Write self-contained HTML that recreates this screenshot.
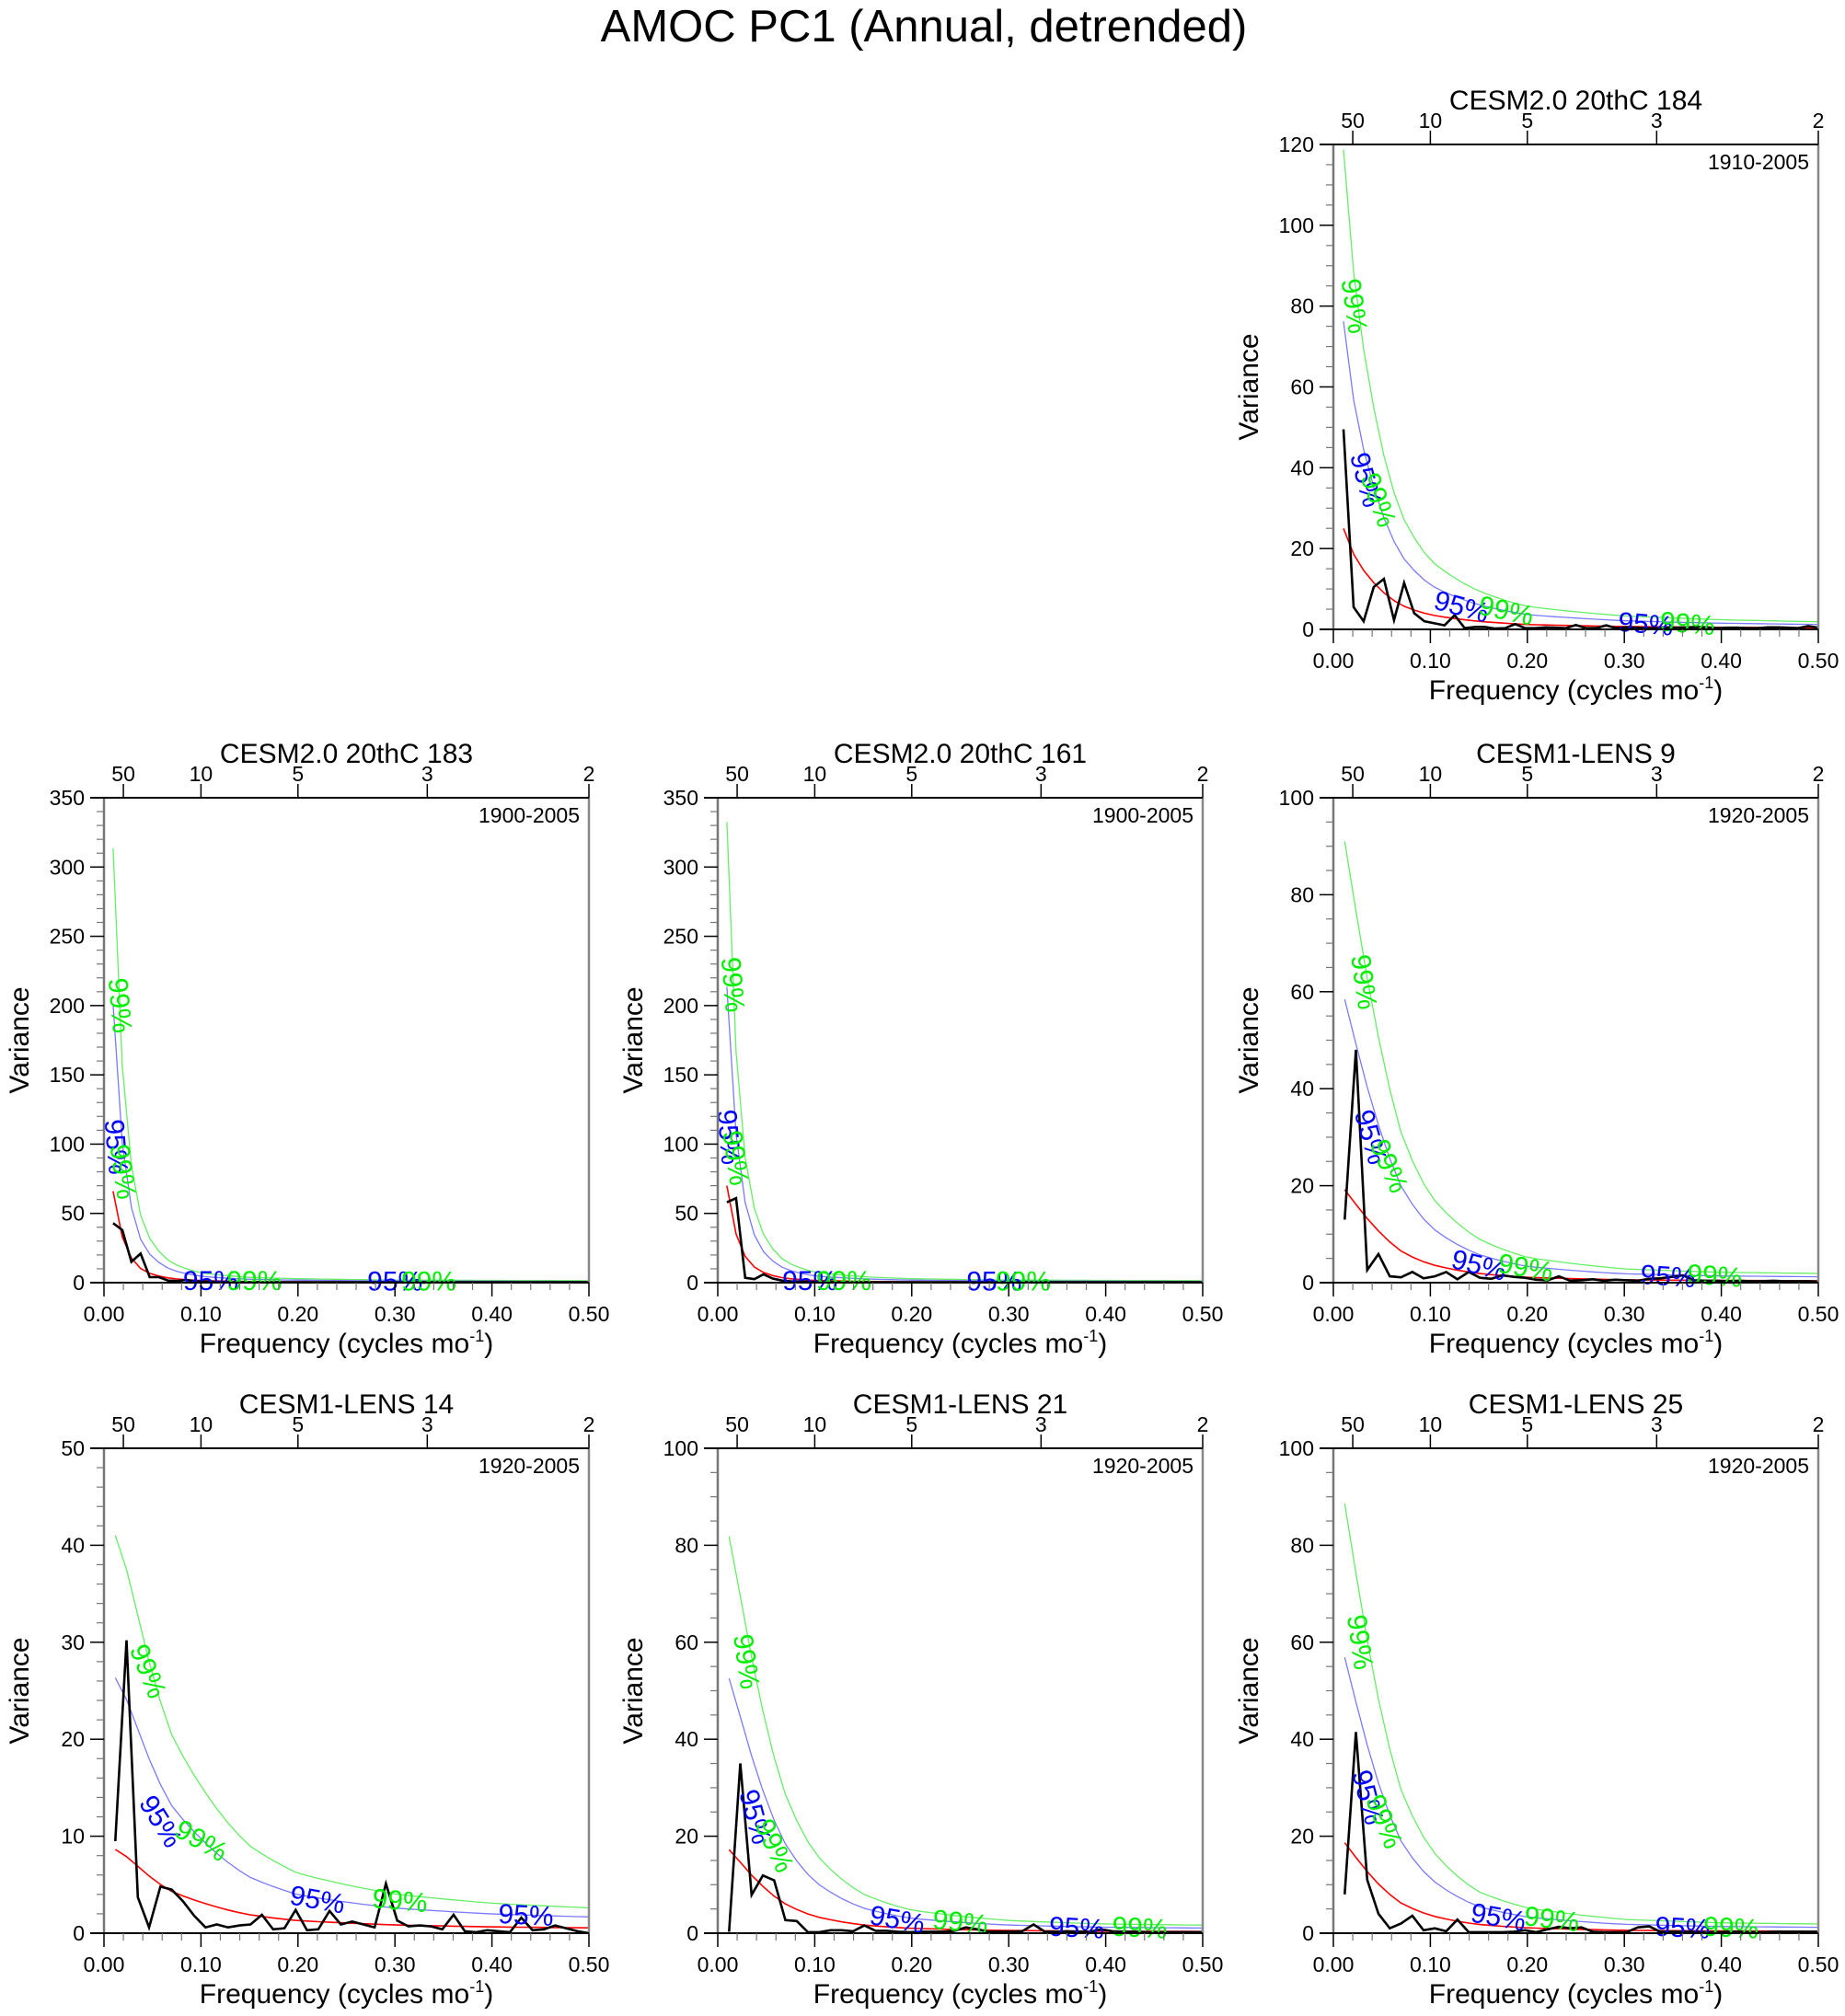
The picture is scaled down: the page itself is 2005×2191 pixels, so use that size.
<!DOCTYPE html>
<html><head><meta charset="utf-8"><title>AMOC PC1 (Annual, detrended)</title>
<style>
html,body{margin:0;padding:0;background:#fff;}
body{width:2005px;height:2191px;overflow:hidden;font-family:"Liberation Sans",sans-serif;}
svg{display:block;}
</style></head>
<body>
<svg id="chart" width="2005" height="2191" viewBox="0 0 2005 2191" xmlns="http://www.w3.org/2000/svg" font-family="Liberation Sans, sans-serif">
<rect x="0" y="0" width="2005" height="2191" fill="#fff"/>
<text x="1004" y="45" font-size="49" text-anchor="middle" fill="#000">AMOC PC1 (Annual, detrended)</text>
</svg>
<script>
// ---------- data ----------
const panelTitles = ["CESM2.0 20thC 184","CESM2.0 20thC 183","CESM2.0 20thC 161","CESM1-LENS 9","CESM1-LENS 14","CESM1-LENS 21","CESM1-LENS 25"];
const panelYears = ["1910-2005","1900-2005","1900-2005","1920-2005","1920-2005","1920-2005","1920-2005"];
const panelLengths = [96,106,106,86,86,86,86];
const yMaxes = [120,350,350,100,50,100,100];
const yMajors = [20,50,50,20,10,20,20];
const yMinors = [5,10,10,5,2,5,5];
const xTickLabels = ["0.00","0.10","0.20","0.30","0.40","0.50"];
const periodTicks = [50,10,5,3,2];
const sig95Factor = 3.05;
const sig99Factor = 4.75;

const spec184 = [49.5,5.5,2,10.5,12.5,2.3,11.5,4,2,1.5,1,3.5,0.3,0.6,0.6,0.2,0.3,1.3,0.3,0.3,0.5,0.4,0.3,1.1,0.3,0.3,1.0,0.3,0.5,0.4,0.3,0.3,0.5,0.4,0.5,0.6,0.5,0.3,0.4,0.4,0.3,0.3,0.5,0.5,0.4,0.3,0.8,0.4];
const spec183 = [43,38,15,21,4,4,1.5,1.2,2,1,0.8,0.6,0.5,0.5,0.4,0.4,0.4,0.3,0.3,0.3,0.3,0.3,0.3,0.3,0.3,0.3,0.3,0.3,0.3,0.3,0.3,0.3,0.3,0.3,0.3,0.3,0.3,0.3,0.3,0.3,0.3,0.3,0.3,0.3,0.3,0.3,0.3,0.3,0.3,0.3,0.3,0.3,0.3];
const spec161 = [58,61,3.5,2.5,6,3,1.5,1,0.8,0.6,0.5,0.5,0.4,0.4,0.4,0.3,0.3,0.3,0.3,0.3,0.3,0.3,0.3,0.3,0.3,0.3,0.3,0.3,0.3,0.3,0.3,0.3,0.3,0.3,0.3,0.3,0.3,0.3,0.3,0.3,0.3,0.3,0.3,0.3,0.3,0.3,0.3,0.3,0.3,0.3,0.3,0.3,0.3];
const specL9 = [13,48,2.6,5.9,1.3,1.1,2.2,0.9,1.3,2.2,0.7,2.2,1.0,0.8,1.5,1.2,1.0,0.6,0.5,1.3,0.4,0.5,0.7,0.4,0.6,0.5,0.4,0.8,0.9,1.2,1.5,0.5,0.4,0.4,0.3,0.4,0.3,0.3,0.4,0.3,0.3,0.3,0.2];
const specL14 = [9.5,30.2,3.7,0.6,4.8,4.5,3.3,1.8,0.6,0.9,0.6,0.8,0.9,1.9,0.4,0.5,2.4,0.3,0.4,2.3,0.9,1.2,0.9,0.6,5.1,1.3,0.7,0.8,0.7,0.4,1.9,0.2,0.1,0.3,0.2,0.1,1.6,0.3,0.4,0.8,0.5,0.2,0.0];
const specL21 = [0.3,35,7.9,11.9,10.9,2.7,2.5,0.2,0.2,0.6,0.6,0.4,1.6,0.5,0.5,0.3,0.2,0.3,0.3,0.3,0.5,1.2,0.8,0.3,0.3,0.3,0.4,1.8,0.3,0.3,0.4,0.3,0.3,0.8,0.4,0.3,0.3,0.2,0.2,0.2,0.2,0.2,0.2];
const specL25 = [8,41.5,11,4,1,2,3.6,0.6,1,0.4,2.8,0.2,0.2,0.2,0.2,0.3,0.6,0.2,0.8,1.3,1.0,1.2,0.3,0.2,0.2,0.2,1.2,1.4,0.3,0.3,0.3,0.3,0.2,0.2,0.3,0.3,0.2,0.2,0.3,0.3,0.3,0.3,0.3];
const spectra = [spec184,spec183,spec161,specL9,specL14,specL21,specL25];

const redFreqs = [0.0104,0.02,0.03,0.04,0.05,0.07,0.1,0.15,0.2,0.3,0.4,0.5];
const red184 = [25,19,15,12,9.5,6,3.6,2,1.2,0.7,0.5,0.4];
const red183 = [66,30,16,9,6,3,1.5,0.8,0.6,0.4,0.35,0.3];
const red161 = [70,32,17,10,6.5,3.2,1.6,0.9,0.6,0.4,0.35,0.3];
const redL9 = [19.5,17,14.5,12,10,6.5,3.8,1.9,1.1,0.6,0.45,0.4];
const redL14 = [8.7,8.2,7.3,6.5,5.6,4.3,3.2,1.9,1.3,0.85,0.65,0.55];
const redL21 = [17.5,15.5,13,11,9,6,3.5,1.7,1.0,0.55,0.4,0.35];
const redL25 = [19,16.5,14,11.5,9.5,6.2,3.7,1.8,1.1,0.6,0.45,0.4];
const redCurves = [red184,red183,red161,redL9,redL14,redL21,redL25];

// curve labels: [text, freq, value, angle]
const curveLabels = [
 [["99%",0.021,80,82],["95%",0.033,37,75],["99%",0.046,32,70],["95%",0.132,5.5,15],["99%",0.178,4.5,12],["95%",0.322,1.2,5],["99%",0.365,1.3,5]],
 [["99%",0.016,200,85],["95%",0.012,98,85],["99%",0.019,80,82],["95%",0.11,1,0],["99%",0.155,1,0],["95%",0.3,0.5,0],["99%",0.335,0.5,0]],
 [["99%",0.015,215,85],["95%",0.011,105,85],["99%",0.018,90,82],["95%",0.095,1,0],["99%",0.13,1,0],["95%",0.285,0.5,0],["99%",0.315,0.5,0]],
 [["99%",0.031,62,82],["95%",0.038,30,74],["99%",0.057,24,66],["95%",0.15,3.5,14],["99%",0.198,3,10],["95%",0.345,1.2,4],["99%",0.393,1.3,4]],
 [["99%",0.045,27,68],["95%",0.058,11.5,58],["99%",0.1,9.5,30],["95%",0.22,3.4,10],["99%",0.305,3.3,5],["95%",0.435,1.8,3]],
 [["99%",0.029,56,82],["95%",0.038,24,75],["99%",0.058,18,65],["95%",0.185,2.7,10],["99%",0.25,2.2,6],["95%",0.37,1,3],["99%",0.435,1,3]],
 [["99%",0.027,60,82],["95%",0.035,28,75],["99%",0.052,23,68],["95%",0.17,3.2,10],["99%",0.225,2.8,7],["95%",0.36,1,3],["99%",0.41,1,3]]
];

// layout (not data)
const colX = [113,780,1449];
const rowY = [157,867,1574];
const panelPos = [[2,0],[0,1],[1,1],[2,1],[0,2],[1,2],[2,2]];
const PW = 527, PH = 527;

const NS = "http://www.w3.org/2000/svg";
const svg = document.getElementById("chart");
function mk(tag, attrs, parent){ const e=document.createElementNS(NS,tag); for(const k in attrs) e.setAttribute(k,attrs[k]); (parent||svg).appendChild(e); return e; }

function interpRed(freqs, vals, f){
  if(f<=freqs[0]) return vals[0];
  for(let i=1;i<freqs.length;i++){ if(f<=freqs[i]){ const t=(f-freqs[i-1])/(freqs[i]-freqs[i-1]); return Math.exp(Math.log(vals[i-1])*(1-t)+Math.log(vals[i])*t);} }
  return vals[vals.length-1];
}

panelTitles.forEach((title, p) => {
  const L = colX[panelPos[p][0]], T = rowY[panelPos[p][1]];
  const R = L+PW, B = T+PH;
  const ymax = yMaxes[p];
  const xs = f => L + f/0.5*PW;
  const ys = v => B - v/ymax*PH;
  const g = mk("g",{});
  
  

  const t = mk("text",{x:(L+R)/2,y:T-38,"font-size":30,"text-anchor":"middle",fill:"#000"},g);
  t.textContent = title;
  
  

  const yr = mk("text",{x:R-10,y:T+27,"font-size":23,"text-anchor":"end",fill:"#000"},g);
  yr.textContent = panelYears[p];
  
  

  const cid = "clip"+p;
  const cp = mk("clipPath",{id:cid},g); mk("rect",{x:L,y:T,width:PW,height:PH},cp);
  const plot = mk("g",{"clip-path":"url(#"+cid+")"},g);

  const N = panelLengths[p];
  const spec = spectra[p];
  const red = redCurves[p];
  const freqs = spec.map((_,i)=>(i+1)/N);
  const redPts = [], b95=[], g99=[];
  for(let i=0;i<freqs.length;i++){
    const f=freqs[i]; const r=interpRed(redFreqs, red, f);
    redPts.push(xs(f).toFixed(1)+","+ys(r).toFixed(1));
    b95.push(xs(f).toFixed(1)+","+ys(r*sig95Factor).toFixed(1));
    g99.push(xs(f).toFixed(1)+","+ys(r*sig99Factor).toFixed(1));
  }
  const l99 = mk("polyline",{points:g99.join(" "),fill:"none",stroke:"#66ee66","stroke-width":1.3},plot);
  
  
  const l95 = mk("polyline",{points:b95.join(" "),fill:"none",stroke:"#7a7aff","stroke-width":1.3},plot);
  
  
  const lr = mk("polyline",{points:redPts.join(" "),fill:"none",stroke:"#ff0000","stroke-width":1.6},plot);
  
  
  const sp = spec.map((v,i)=>xs(freqs[i]).toFixed(1)+","+ys(v).toFixed(1)).join(" ");
  const ls = mk("polyline",{points:sp,fill:"none",stroke:"#000","stroke-width":2.6,"stroke-linejoin":"miter"},plot);
  
  

  curveLabels[p].forEach(lb=>{
    const x=xs(lb[1]), y=ys(lb[2]);
    const tx = mk("text",{x:x,y:y,"font-size":30,"text-anchor":"middle","dominant-baseline":"central",fill:lb[0]==="95%"?"#0000ff":"#00ee00",transform:"rotate("+lb[3]+" "+x+" "+y+")"},g);
    tx.textContent = lb[0];
    
    
  });

  mk("line",{x1:L,y1:T,x2:L,y2:B,stroke:"#777","stroke-width":2.5},g);
  mk("line",{x1:R,y1:T,x2:R,y2:B,stroke:"#888","stroke-width":2.5},g);
  mk("line",{x1:L-15,y1:B,x2:R,y2:B,stroke:"#000","stroke-width":2},g);
  mk("line",{x1:L-15,y1:T,x2:R,y2:T,stroke:"#000","stroke-width":2},g);

  for(let v=0; v<=ymax+1e-9; v+=yMinors[p]){
    const y=ys(v); const major = Math.abs(v/yMajors[p]-Math.round(v/yMajors[p]))<1e-6;
    mk("line",{x1:L-(major?15:8),y1:y,x2:L,y2:y,stroke:major?"#000":"#777","stroke-width":major?1.5:1.2},g);
    if(major){ const tl=mk("text",{x:L-21,y:y+8,"font-size":23,"text-anchor":"end",fill:"#000"},g); tl.textContent=String(Math.round(v));
        }
  }
  for(let k=0;k<=25;k++){
    const f=k*0.02, x=xs(f), major=(k%5===0);
    mk("line",{x1:x,y1:B,x2:x,y2:B+(major?15:8),stroke:major?"#000":"#777","stroke-width":major?1.5:1.2},g);
  }
  xTickLabels.forEach(s=>{ const f=parseFloat(s); const tl=mk("text",{x:xs(f),y:B+42,"font-size":23,"text-anchor":"middle",fill:"#000"},g); tl.textContent=s;
      });
  periodTicks.forEach(pr=>{ const x=xs(1/pr);
    mk("line",{x1:x,y1:T-15,x2:x,y2:T,stroke:"#000","stroke-width":1.5},g);
    const tl=mk("text",{x:x,y:T-18,"font-size":23,"text-anchor":"middle",fill:"#000"},g); tl.textContent=String(pr);
      });

  const xt = mk("text",{x:(L+R)/2,y:B+76,"font-size":30,"text-anchor":"middle",fill:"#000"},g);
  xt.innerHTML = 'Frequency (cycles mo<tspan dy="-12" font-size="18">-1</tspan><tspan dy="12">)</tspan>';
  
  
  const yx = L-82, yy=(T+B)/2;
  const yt = mk("text",{x:yx,y:yy,"font-size":30,"text-anchor":"middle",fill:"#000",transform:"rotate(-90 "+yx+" "+yy+")"},g);
  yt.textContent = "Variance";
  
  
});
</script>
</body></html>
